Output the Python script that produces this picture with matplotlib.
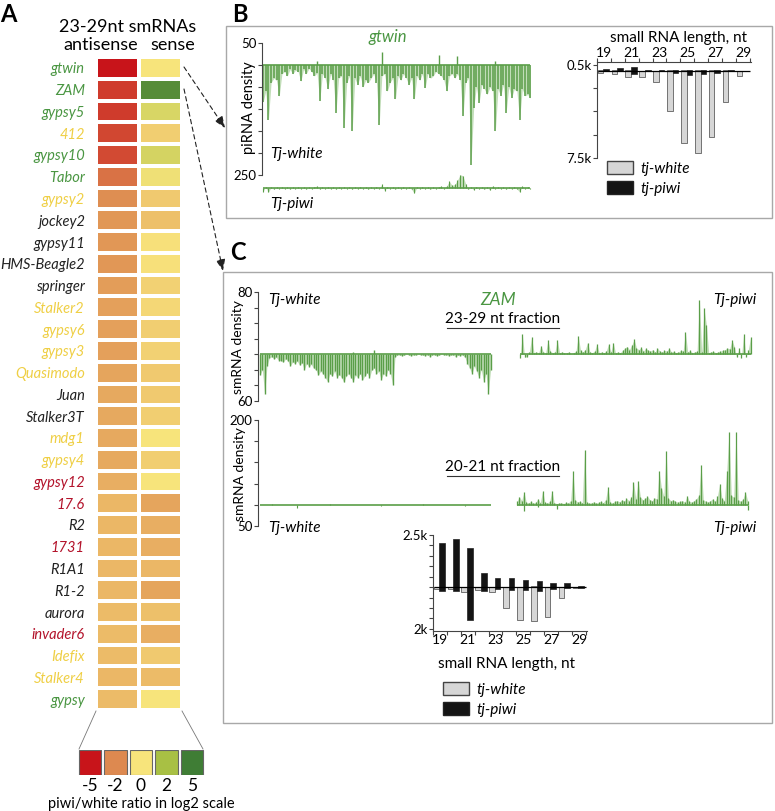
import numpy as np
import matplotlib
matplotlib.use("Agg")
import matplotlib.pyplot as plt
from matplotlib.colors import LinearSegmentedColormap, Normalize
from matplotlib.patches import Rectangle, Patch

plt.rcParams['font.family'] = ['Lato', 'DejaVu Sans']

W, H = 775, 811

# ---------------- panel A: heatmap data ----------------
elements = ["gtwin", "ZAM", "gypsy5", "412", "gypsy10", "Tabor", "gypsy2", "jockey2",
            "gypsy11", "HMS-Beagle2", "springer", "Stalker2", "gypsy6", "gypsy3",
            "Quasimodo", "Juan", "Stalker3T", "mdg1", "gypsy4", "gypsy12", "17.6", "R2",
            "1731", "R1A1", "R1-2", "aurora", "invader6", "Idefix", "Stalker4", "gypsy"]
label_groups = ["g", "g", "g", "y", "g", "g", "y", "k", "k", "k", "k", "y", "y", "y",
                "y", "k", "k", "y", "y", "r", "r", "k", "r", "k", "k", "k", "r", "y", "y", "g"]
antisense = [-5.0, -4.0, -4.0, -3.7, -3.6, -2.6, -1.9, -1.7, -1.7, -1.7, -1.6, -1.5, -1.5,
             -1.5, -1.4, -1.3, -1.3, -1.3, -1.3, -1.2, -1.0, -1.0, -1.0, -1.0, -1.0, -0.9,
             -0.9, -0.9, -1.0, -0.9]
sense = [0.0, 4.3, 0.8, -0.5, 0.9, 0.2, -0.6, -0.8, -0.1, -0.1, -0.4, -0.3, -0.5, -0.4,
         -0.6, -0.6, -0.5, 0.0, -0.5, 0.0, -1.4, -1.2, -1.2, -1.0, -1.4, -0.8, -1.2, -0.6,
         -0.9, 0.0]
legend_vals = [-5, -2, 0, 2, 5]
legend_labels = ["-5", "-2", "0", "2", "5"]

# ---------------- panel B: gtwin coverage (100 bins along element) ----------------
gtwin_white = [-85, -60, -124, -40, -30, -35, -71, -20, -15, -25,
               -10, -20, -12, -15, -37, -10, -20, -8, -15, -25,
               -18, -82, -20, -30, -55, -20, -35, -108, -30, -25,
               -143, -40, -25, -151, -30, -45, -25, -50, -35, -40,
               -30, -20, -40, -137, -25, -20, -60, -40, -30, -78,
               -25, -35, -20, -30, -45, -30, -78, -25, -35, -20,
               -52, -20, -30, -25, -15, -20, -25, -35, -60, -25,
               -20, -30, -20, -35, -117, -40, -30, -227, -97, -50,
               -86, -45, -55, -67, -50, -60, -151, -55, -70, -45,
               -108, -50, -75, -55, -60, -124, -55, -70, -67, -75]
gtwin_white_up_pos = [20, 44, 65, 72, 86]
gtwin_white_up_val = [8, 30, 22, 20, 10]
gtwin_piwi = [-8, 3, -10, 2, -3, 2, -2, 3, -2, 2,
              -3, 2, -2, 3, -2, 2, -3, 2, -2, 3,
              4, -3, 2, -2, 3, -2, 2, -3, 2, -2,
              3, -2, 2, -3, 2, -2, 3, -2, 2, -3,
              2, -2, 3, -2, 8, -6, 3, -2, 2, -3,
              2, -2, 3, -2, 2, -3, -12, 2, -2, 3,
              -2, 2, -3, 2, -2, 3, 4, -2, 5, 15,
              6, 8, 18, 30, 28, 10, -3, 2, -4, 3,
              -2, 2, -3, 2, -5, 5, -2, 3, -2, 2,
              -3, 2, -2, 3, -2, -9, 4, -2, 3, -2]

# ---------------- panel C: ZAM coverage ----------------
zam_white_2329 = [-27, -20, -51, -15, -5, -3, -6, -4, -8, -8,
                  -10, -6, -9, -15, -10, -12, -9, -14, -11, -20,
                  -12, -16, -13, -18, -20, -27, -22, -25, -30, -35,
                  -25, -28, -22, -30, -26, -30, -36, -28, -25, -30,
                  -35, -27, -30, -25, -33, -28, -24, -30, -20, -18,
                  -25, -22, -33, -25, -28, -20, -25, -40, -3, -1,
                  -1, -2, -1, 0, -1, -2, -1, -1, 0, -1,
                  -1, -2, -1, -3, -1, -1, -2, -1, 0, -1,
                  -1, -2, -1, -1, -3, -1, -2, -1, -4, -12,
                  -18, -25, -15, -22, -30, -20, -35, -25, -51, -20]
zam_white_2329_up_pos = [40, 49]
zam_white_2329_up_val = [3, 6]
zam_piwi_2329 = [-5, 26, -4, -3, 3, 22, 2, 3, 2, 11,
                 3, 2, 18, 4, 2, 3, 18, 2, 3, 2,
                 2, 3, 1, 2, 4, 23, 5, 3, 6, 15,
                 3, 2, 4, 13, 2, 3, 2, 4, 13, 3,
                 15, 2, 3, 2, 5, 8, 10, 6, 12, 19,
                 8, 6, 9, 4, 8, 5, 4, 6, 3, 8,
                 4, 3, 5, 4, 8, 3, 4, 2, 3, 5,
                 4, 28, 3, 5, 2, 3, 4, 70, 3, 59,
                 38, 2, 3, 4, 2, 3, 4, 5, 6, 8,
                 7, 18, 10, -4, 8, -5, 26, -3, 6, 22]
zam_white_2021_pos = [5, 16, 30, 52, 70, 88]
zam_white_2021_val = [2, -7, 2, -2, 2, -2]
zam_piwi_2021 = [8, 19, 10, 30, 6, 5, 8, 4, 6, 14,
                 5, 33, 6, 4, 8, 33, 5, 3, 4, 5,
                 3, 6, 4, 10, 79, 12, 6, 8, 5, 130,
                 6, 4, 5, 7, 4, 6, 8, 5, 12, 41,
                 6, 5, 8, 10, 7, 12, 9, 15, 10, 18,
                 53, 14, 56, 18, 12, 15, 20, 12, 10, 16,
                 14, 79, 40, 20, 128, 15, 10, 12, 8, 6,
                 8, 10, 6, 21, 8, 6, 10, 14, 22, 95,
                 12, 8, 6, 10, 14, 8, 20, 49, 15, 10,
                 79, 172, 22, 18, 172, 12, 8, 14, 30, 10]
zam_piwi_2021_down_pos = [3, 9, 17, 99]
zam_piwi_2021_down_val = [-14, -6, -10, -12]

# ---------------- length distributions (k reads, + sense / - antisense) ----------------
lengths = list(range(19, 30))
b_white_s = [0.05, 0.05, 0.1, 0.0, 0.0, 0.1, 0.1, 0.1, 0.1, 0.05, 0.0]
b_white_as = [-0.2, -0.3, -0.5, -0.5, -1.0, -3.5, -6.2, -7.1, -5.7, -2.7, -0.45]
b_piwi_s = [0.15, 0.2, 0.3, 0.05, 0.05, 0.05, 0.05, 0.05, 0.05, 0.05, 0.0]
b_piwi_as = [-0.05, -0.05, -0.3, -0.05, -0.05, -0.2, -0.4, -0.3, -0.2, -0.05, 0.0]
c_white_s = [0.0, 0.0, 0.0, 0.0, 0.0, 0.0, 0.0, 0.05, 0.0, 0.0, 0.0]
c_white_as = [-0.1, -0.1, -0.25, -0.15, -0.25, -1.0, -1.55, -1.6, -1.45, -0.5, -0.05]
c_piwi_s = [2.1, 2.3, 1.9, 0.7, 0.45, 0.45, 0.35, 0.3, 0.2, 0.2, 0.05]
c_piwi_as = [-0.2, -0.2, -1.55, -0.2, -0.1, -0.15, -0.15, -0.2, -0.1, -0.05, -0.03]

GREEN = "#5a9e48"
LIGHT_GREEN = "#8fc27f"
TXT_GREEN = "#4a9642"
GROUP_COLORS = {"g": TXT_GREEN, "y": "#efcf45", "r": "#b3132b", "k": "#222222"}
GRAY_BAR = "#d6d6d6"
BLACK_BAR = "#141414"
BOX = "#a8a8a8"
AXC = "#444444"

cmap = LinearSegmentedColormap.from_list(
    "ratio", [(0.0, "#c8141a"), (0.3, "#dd8a50"), (0.5, "#f8e47c"),
              (0.7, "#a9c044"), (1.0, "#3f7d35")])
norm = Normalize(-5, 5)

fig = plt.figure(figsize=(W / 100, H / 100), dpi=100)


def add_ax(x0, y0, x1, y1):
    ax = fig.add_axes([x0 / W, 1 - y1 / H, (x1 - x0) / W, (y1 - y0) / H])
    ax.patch.set_visible(False)
    return ax


ov = add_ax(0, 0, W, H)
ov.set_xlim(0, W)
ov.set_ylim(H, 0)
ov.axis("off")

# ---------------- A ----------------
hm = add_ax(96, 57, 182, 710)
hm.pcolormesh(np.column_stack([antisense, sense]), cmap=cmap, norm=norm,
              edgecolors="white", linewidth=1.5)
hm.set_xlim(0, 2)
hm.set_ylim(len(elements), 0)
hm.set_yticks(np.arange(len(elements)) + 0.5)
hm.set_yticklabels(elements, fontsize=10.5, fontstyle="italic")
for lab, g in zip(hm.get_yticklabels(), label_groups):
    lab.set_color(GROUP_COLORS[g])
hm.tick_params(left=False, bottom=False, labelbottom=False, pad=4.5)
for s in hm.spines.values():
    s.set_visible(False)

lg = add_ax(77, 750, 205, 775)
lg.bar(range(5), 1, width=0.88, color=cmap(norm(legend_vals)), edgecolor="#666666",
       linewidth=0.8)
lg.set_xlim(-0.5, 4.5)
lg.set_ylim(0, 1)
lg.set_xticks(range(5))
lg.set_xticklabels(legend_labels, fontsize=12.5)
lg.set_yticks([])
lg.tick_params(length=0, pad=2)
for s in lg.spines.values():
    s.set_visible(False)

ov.plot([96, 79], [711, 749], color="#777777", lw=0.6)
ov.plot([182, 203], [711, 749], color="#777777", lw=0.6)
ov.text(8, 15, "A", fontsize=17, fontweight="bold", ha="center", va="center")
ov.text(128, 27, "23-29nt smRNAs", fontsize=13, ha="center", va="center")
ov.text(101, 45, "antisense", fontsize=13, ha="center", va="center")
ov.text(173, 45, "sense", fontsize=13, ha="center", va="center")
ov.text(141, 804, "piwi/white ratio in log2 scale", fontsize=10.5, ha="center", va="center")

arrow = dict(arrowstyle="-|>,head_length=0.7,head_width=0.28", linestyle=(0, (4, 3)),
             lw=0.8, color="#222222", shrinkA=0, shrinkB=0)
ov.annotate("", xy=(225, 128), xytext=(184, 67), arrowprops=arrow)
ov.annotate("", xy=(223, 271), xytext=(184, 89), arrowprops=arrow)


def trace_axis(ax, ylim, ticks, labels):
    ax.set_ylim(*ylim)
    ax.set_yticks(ticks)
    ax.set_yticklabels(labels, fontsize=9.5)
    for s in ["top", "right", "bottom"]:
        ax.spines[s].set_visible(False)
    ax.spines["left"].set_color(AXC)
    ax.spines["left"].set_linewidth(0.8)
    ax.tick_params(axis="y", length=3, width=0.8, color=AXC, pad=1)
    ax.tick_params(axis="x", bottom=False, labelbottom=False)


def draw_trace(ax, vals, lw=1.0):
    x = np.arange(len(vals))
    ax.fill_between(x, 0, vals, color=LIGHT_GREEN, alpha=0.55, lw=0)
    ax.vlines(x, 0, vals, color=GREEN, lw=lw)
    ax.hlines(0, 0, len(vals) - 1, color=GREEN, lw=1.2)


def bar_panel(ax, ws, was, ps, pas):
    x = np.array(lengths)
    for v in (ws, was):
        ax.bar(x - 0.25, v, 0.4, color=GRAY_BAR, edgecolor="#444444", linewidth=0.5)
    for v in (ps, pas):
        ax.bar(x + 0.15, v, 0.4, color=BLACK_BAR, edgecolor="#222222", linewidth=0.5)
    ax.hlines(0, 18.6, 29.5, color="black", lw=0.9)
    ax.set_xlim(18.5, 29.58)
    ax.set_xticks(lengths[::2])
    ax.set_xticks(np.arange(18.5, 30, 1), minor=True)
    ax.tick_params(axis="x", which="major", length=0, labelsize=10, pad=2)
    ax.tick_params(axis="x", which="minor", length=3, width=0.8, color=AXC)
    ax.tick_params(axis="y", length=3, width=0.8, color=AXC, labelsize=9.5, pad=1)
    for s in ["top", "right", "bottom", "left"]:
        ax.spines[s].set_color(AXC)
        ax.spines[s].set_linewidth(0.8)
    ax.spines["right"].set_visible(False)


def bar_legend(ax, x, y):
    handles = [Patch(facecolor=GRAY_BAR, edgecolor="#444444", label="tj-white"),
               Patch(facecolor=BLACK_BAR, edgecolor="#222222", label="tj-piwi")]
    ax.legend(handles=handles, loc="upper left", bbox_to_anchor=(x / W, 1 - y / H),
              bbox_transform=fig.transFigure, frameon=False,
              prop=dict(family="Lato", style="italic", size=11), handlelength=1.7,
              handleheight=0.9, handletextpad=0.5, labelspacing=0.35, borderpad=0,
              borderaxespad=0)


# ---------------- B ----------------
ov.text(240, 14, "B", fontsize=17, fontweight="bold", ha="center", va="center")
ov.add_patch(Rectangle((226, 26), 546, 192, fill=False, ec=BOX, lw=1.0))

bw = add_ax(262, 43, 535, 175)
draw_trace(bw, gtwin_white, lw=1.1)
bw.vlines(gtwin_white_up_pos, 0, gtwin_white_up_val, color=GREEN, lw=1.0)
bw.set_xlim(-0.37, 100.7)
trace_axis(bw, (-250, 50), [50, 0, -50, -100, -150, -200, -250],
           ["50", "", "", "", "", "", "250"])

bp = add_ax(262, 170, 535, 205)
draw_trace(bp, gtwin_piwi, lw=0.8)
bp.set_xlim(-0.37, 100.7)
bp.set_ylim(-38.6, 40.9)
bp.axis("off")

ov.text(249, 108, "piRNA density", fontsize=10.5, rotation=90, ha="center", va="center")
ov.text(388, 37, "gtwin", fontsize=12, color=TXT_GREEN, fontstyle="italic",
        ha="center", va="center")
ov.text(270, 154, "Tj-white", fontsize=11, fontstyle="italic", va="center")
ov.text(270, 204, "Tj-piwi", fontsize=11, fontstyle="italic", va="center")

bb = add_ax(597, 62, 751, 158)
bar_panel(bb, b_white_s, b_white_as, b_piwi_s, b_piwi_as)
bb.set_ylim(-7.5, 0.75)
bb.set_yticks([0.5, -1.5, -3.5, -5.5, -7.5])
bb.set_yticklabels(["0.5k", "", "", "", "7.5k"])
bb.xaxis.tick_top()
bb.spines["bottom"].set_visible(False)
bb.tick_params(axis="x", which="both", bottom=False, top=True)
bb.tick_params(axis="x", which="major", top=False)
ov.text(678, 38, "small RNA length, nt", fontsize=11, ha="center", va="center")
bar_legend(bb, 607, 161)

# ---------------- C ----------------
ov.text(238, 253, "C", fontsize=17, fontweight="bold", ha="center", va="center")
ov.add_patch(Rectangle((223, 272), 549, 451, fill=False, ec=BOX, lw=1.0))

ct = add_ax(258, 292, 495, 401)
draw_trace(ct, zam_white_2329, lw=1.0)
ct.vlines(zam_white_2329_up_pos, 0, zam_white_2329_up_val, color=GREEN, lw=1.0)
ct.set_xlim(-0.86, 100.9)
trace_axis(ct, (-60, 80), [80, 60, 40, 20, 0, -20, -40, -60],
           ["80", "", "", "", "", "", "", "60"])

ctp = add_ax(518, 292, 756, 401)
draw_trace(ctp, zam_piwi_2329, lw=0.9)
ctp.set_xlim(-0.86, 101.3)
ctp.set_ylim(-60, 80)
ctp.axis("off")

cb = add_ax(258, 420, 495, 526)
cb.hlines(0, 0, 99, color=GREEN, lw=1.2)
cb.vlines(zam_white_2021_pos, 0, zam_white_2021_val, color=GREEN, lw=0.8)
cb.set_xlim(-0.86, 100.9)
trace_axis(cb, (-50, 200), [200, 150, 100, 50, 0, -50], ["200", "", "", "", "", "50"])

cbp = add_ax(515, 420, 753, 526)
draw_trace(cbp, zam_piwi_2021, lw=0.9)
cbp.vlines(zam_piwi_2021_down_pos, 0, zam_piwi_2021_down_val, color=GREEN, lw=0.9)
cbp.set_xlim(-0.86, 101.3)
cbp.set_ylim(-50, 200)
cbp.axis("off")

ov.text(238, 347, "smRNA density", fontsize=10, rotation=90, ha="center", va="center")
ov.text(240, 474, "smRNA density", fontsize=10, rotation=90, ha="center", va="center")
ov.text(268, 300, "Tj-white", fontsize=11, fontstyle="italic", va="center")
ov.text(756, 300, "Tj-piwi", fontsize=11, fontstyle="italic", va="center", ha="right")
ov.text(268, 528, "Tj-white", fontsize=11, fontstyle="italic", va="center")
ov.text(756, 528, "Tj-piwi", fontsize=11, fontstyle="italic", va="center", ha="right")
ov.text(498, 300, "ZAM", fontsize=12.5, color=TXT_GREEN, fontstyle="italic",
        ha="center", va="center")
ov.text(503, 319, "23-29 nt fraction", fontsize=11, ha="center", va="center")
ov.plot([447, 559], [328, 328], color="#333333", lw=0.8)
ov.text(503, 467, "20-21 nt fraction", fontsize=11, ha="center", va="center")
ov.plot([447, 559], [476, 476], color="#333333", lw=0.8)

cbar = add_ax(433, 535, 587, 631)
bar_panel(cbar, c_white_s, c_white_as, c_piwi_s, c_piwi_as)
cbar.set_ylim(-2.1, 2.5)
cbar.set_yticks(np.arange(2.5, -2.01, -0.5))
cbar.set_yticklabels(["2.5k"] + [""] * 8 + ["2k"])
cbar.spines["top"].set_visible(False)
ov.text(507, 664, "small RNA length, nt", fontsize=11, ha="center", va="center")
bar_legend(cbar, 443, 682)

fig.savefig("out.png", dpi=100)
